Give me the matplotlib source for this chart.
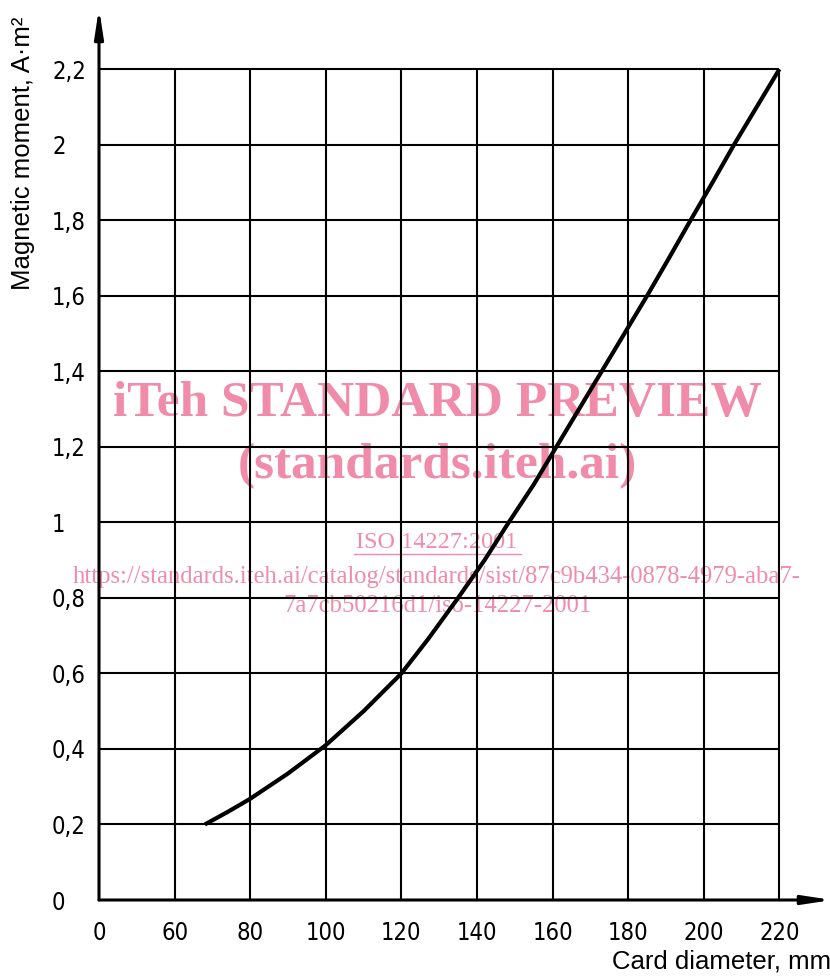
import matplotlib
matplotlib.use("Agg")
import matplotlib.pyplot as plt

# card diameter (mm) -> magnetic moment (A*m^2)
diameter = [68, 74, 80, 90, 100, 110, 120, 127, 135, 142, 148.4, 155, 161, 167, 173, 179, 185, 190.8, 196.5, 202.3, 208, 214, 220]
moment = [0.2, 0.233, 0.268, 0.335, 0.41, 0.5, 0.6, 0.69, 0.8, 0.9, 1.0, 1.1, 1.2, 1.3, 1.4, 1.5, 1.6, 1.7, 1.8, 1.9, 2.0, 2.1, 2.2]

x_ticks = [0, 60, 80, 100, 120, 140, 160, 180, 200, 220]
y_ticks = [0, 0.2, 0.4, 0.6, 0.8, 1.0, 1.2, 1.4, 1.6, 1.8, 2.0, 2.2]
y_labels = ["0", "0,2", "0,4", "0,6", "0,8", "1", "1,2", "1,4", "1,6", "1,8", "2", "2,2"]


def pos(d):
    # broken axis: 0 sits one cell left of 60, then 20 mm per cell
    if d == 0:
        return 0.0
    return (d - 40) / 20.0


label_font = ['Liberation Sans', 'DejaVu Sans']
pink = '#F08CAA'

fig = plt.figure(figsize=(8.3, 9.76), dpi=100)
ax = fig.add_axes([99 / 830, 76 / 976, 733 / 830, 892 / 976])
ax.set_xlim(0, 733 / 75.6)
ax.set_ylim(0, 2.362)
for s in ax.spines.values():
    s.set_visible(False)

xp = [pos(d) for d in x_ticks]
ax.vlines(xp[1:], 0, y_ticks[-1], colors='black', lw=1.5, zorder=2)
ax.hlines(y_ticks[1:], 0, xp[-1], colors='black', lw=1.5, zorder=2)

ax.plot([pos(d) for d in diameter], moment, color='black', lw=3.0,
        solid_capstyle='butt', solid_joinstyle='round', zorder=4)

# axes with arrows
arrow = dict(arrowstyle='-|>,head_length=1.7,head_width=0.26', lw=2.2,
             color='black', shrinkA=0, shrinkB=0)
ax.annotate('', xy=(1, 0), xytext=(0, 0), xycoords='axes fraction',
            arrowprops=arrow, annotation_clip=False, zorder=5)
ax.annotate('', xy=(0, 1), xytext=(0, 0), xycoords='axes fraction',
            arrowprops=arrow, annotation_clip=False, zorder=5)

ax.set_xticks(xp)
ax.set_xticklabels([str(v) for v in x_ticks], family='DejaVu Sans',
                   stretch='condensed', fontsize=17)
ax.set_yticks(y_ticks)
ax.set_yticklabels(y_labels, family='DejaVu Sans', stretch='condensed', fontsize=17)
ax.tick_params(axis='x', length=0, pad=15)
ax.tick_params(axis='y', length=0, pad=33.8)
for t in ax.get_yticklabels():
    t.set_horizontalalignment('left')

ax.set_ylabel('Magnetic moment, A·m²', family=label_font, fontsize=18.5)
ax.yaxis.set_label_coords(-64 / 733, (900 - 153) / 892)
fig.text(612 / 830, 1 - 962 / 976, 'Card diameter, mm', family=label_font,
         fontsize=18.5, ha='left', va='center')

# watermark
wm = ['Liberation Serif', 'DejaVu Serif']
fig.text(437 / 830, 1 - 404 / 976, 'iTeh STANDARD PREVIEW', family=wm,
         weight='bold', fontsize=37, color=pink, ha='center', va='center', zorder=0)
fig.text(437 / 830, 1 - 466 / 976, '(standards.iteh.ai)', family=wm,
         weight='bold', fontsize=37, color=pink, ha='center', va='center', zorder=0)
fig.text(437 / 830, 1 - 543 / 976, 'ISO 14227:2001', family=wm,
         fontsize=17.5, color=pink, ha='center', va='center', zorder=0)
fig.text(437 / 830, 1 - 577 / 976,
         'https://standards.iteh.ai/catalog/standards/sist/87c9b434-0878-4979-aba7-',
         family=wm, fontsize=17.7, color=pink, ha='center', va='center', zorder=0)
fig.text(437 / 830, 1 - 606 / 976, '7a7cb50216d1/iso-14227-2001', family=wm,
         fontsize=17.7, color=pink, ha='center', va='center', zorder=0)
fig.lines.append(plt.Line2D([354 / 830, 521 / 830], [1 - 554 / 976, 1 - 554 / 976],
                            transform=fig.transFigure, color=pink, lw=1.0, zorder=0))
ax.set_zorder(1)
ax.patch.set_alpha(0)

fig.savefig('out.png', dpi=100)
